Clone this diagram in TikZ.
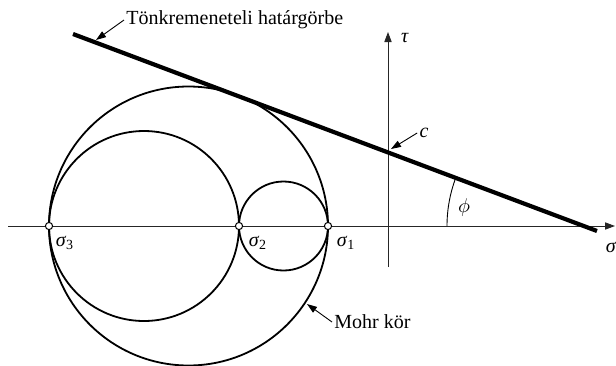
\documentclass[tikz,border=0pt]{standalone}
\usepackage{fontspec}
\setmainfont{Liberation Serif}
\usetikzlibrary{arrows.meta,positioning}

\begin{document}
\begin{tikzpicture}[
  x=0.5pt, y=-0.5pt,
  font=\fontsize{10}{12}\selectfont,
  axis/.style={draw, line width=0.45pt, black!85, -{Triangle[length=5pt, width=3.6pt]}},
  mohr/.style={draw, line width=0.9pt},
  envelope/.style={draw, line width=2.1pt},
  pointer/.style={draw, line width=0.45pt, -{Triangle[length=5pt, width=3.4pt]}},
  stress/.style={circle, draw, fill=white, inner sep=0pt, minimum size=3.6pt, line width=0.5pt},
  lbl/.style={inner sep=1pt}
]
\useasboundingbox (0,0) rectangle (616,365);
% axes
\coordinate (xl) at (8,226);
\coordinate (xr) at (615,226);
\coordinate (yb) at (388,267);
\coordinate (yt) at (388,32);
\draw[axis] (xl) -- (xr);
\draw[axis] (yb) -- (yt);
% Mohr circles
\draw[mohr] (188.5,226) circle[radius=139.5];
\draw[mohr] (144,226) circle[radius=95];
\draw[mohr] (283.5,226) circle[radius=44.5];
% failure envelope
\coordinate (ea) at (73,34);
\coordinate (eb) at (597,231);
\draw[envelope] (ea) -- (eb);
\draw[line width=0.45pt] (447,226) arc[start angle=180, end angle=200.6, radius=137];
% principal stresses
\node[stress] (s3) at (49,226) {};
\node[stress] (s2) at (239,226) {};
\node[stress] (s1) at (328,226) {};
\node[lbl] (l3) at (65,243) {\textit{σ}\textsubscript{3}};
\node[lbl] (l2) at (258,243) {\textit{σ}\textsubscript{2}};
\node[lbl] (l1) at (346,243) {\textit{σ}\textsubscript{1}};
% labels
\node[lbl] (tau) at (405,38) {\textit{τ}};
\node[lbl] (sig) at (611,247) {\textit{σ}};
\node[lbl] (phi) at (464,207) {$\phi$};
\node[lbl] (coh) at (424,133) {\textit{c}};
\node[lbl, anchor=west] (title) at (124,20) {Tönkremeneteli határgörbe};
\node[lbl, anchor=west] (mk) at (332,322) {Mohr kör};
\coordinate (tp) at (96,40);
\coordinate (cp) at (391,149);
\coordinate (mp) at (307,304);
\draw[pointer] (title.west) -- (tp);
\draw[pointer] (coh.west) -- (cp);
\draw[pointer] (mk.west) -- (mp);
\end{tikzpicture}
\end{document}
